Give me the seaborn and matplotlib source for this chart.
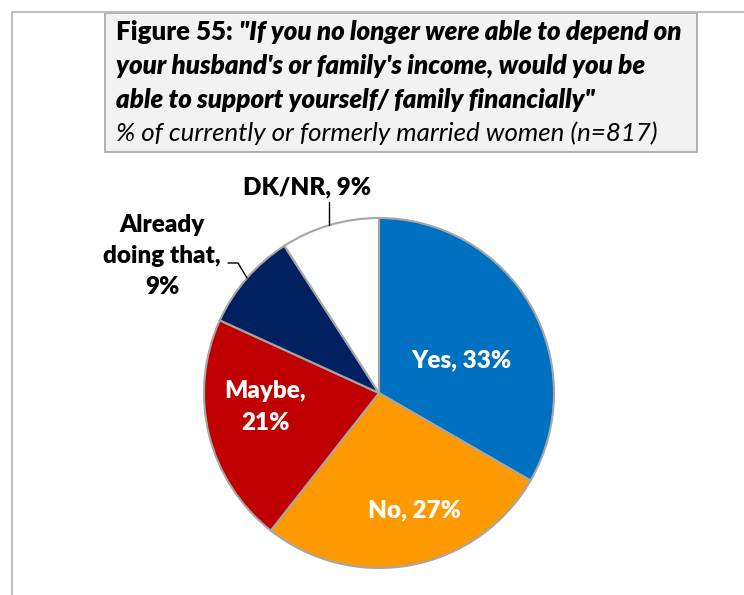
import matplotlib
matplotlib.use("Agg")
import matplotlib.pyplot as plt
import seaborn as sns
from matplotlib.patches import Rectangle
from matplotlib.lines import Line2D

categories = ["Yes", "No", "Maybe", "Already doing that", "DK/NR"]
values = [33, 27, 21, 9, 9]
slice_labels = ["Yes, 33%", "No, 27%", "Maybe,\n21%", "Already\ndoing that,\n9%", "DK/NR, 9%"]
colors = ["#0070C0", "#FF9900", "#C00000", "#002060", "#FFFFFF"]
label_colors = ["white", "white", "white", "black", "black"]

title_lead = "Figure 55: "
title_lines = ['"If you no longer were able to depend on',
               "your husband's or family's income, would you be",
               'able to support yourself/ family financially"']
subtitle = "% of currently or formerly married women (n=817)"

sns.set_theme(style="white")
FONT = "Lato"
plt.rcParams["font.family"] = [FONT, "DejaVu Sans"]

W, H = 744, 595
fig = plt.figure(figsize=(W / 100, H / 100), dpi=100)
fig.patch.set_facecolor("white")

def fx(px):
    return px / W

def fy(py):
    return 1 - py / H

# outer frame lines
fig.add_artist(Line2D([fx(12), fx(12)], [fy(12), fy(595)], color="#BFBFBF", lw=1.5))
fig.add_artist(Line2D([fx(12), fx(744)], [fy(12), fy(12)], color="#BFBFBF", lw=1.5))

# title box
fig.add_artist(Rectangle((fx(105), fy(152)), fx(697) - fx(105), fy(13) - fy(152),
                         facecolor="#F2F2F2", edgecolor="#A6A6A6", lw=1.2))

fs_title = 18.6
renderer = fig.canvas.get_renderer()
t0 = fig.text(fx(116), fy(32), title_lead, fontsize=fs_title, fontweight="heavy",
              va="center", ha="left", color="black")
bb = t0.get_window_extent(renderer=renderer)
fig.text(bb.x1 / W, fy(32), title_lines[0], fontsize=fs_title, fontweight="heavy",
         style="italic", va="center", ha="left", color="black")
ys = [32, 66, 100, 133]
for i, line in enumerate(title_lines[1:], start=1):
    fig.text(fx(116), fy(ys[i]), line, fontsize=fs_title, fontweight="heavy",
             style="italic", va="center", ha="left", color="black")
fig.text(fx(116), fy(ys[3]), subtitle, fontsize=fs_title, style="italic",
         va="center", ha="left", color="black")

# pie
cx, cy, r = 379, 393, 175
ax = fig.add_axes([fx(cx - r), fy(cy + r), 2 * r / W, 2 * r / H])
wedges, _ = ax.pie(values, colors=colors, startangle=90, counterclock=False,
                   wedgeprops=dict(edgecolor="#A6A6A6", linewidth=1.5))
ax.set_xlim(-1, 1)
ax.set_ylim(-1, 1)
ax.set_aspect("auto")
ax.axis("off")

def d(px, py):
    return ((px - cx) / r, (cy - py) / r)

label_pos = [(461, 360), (414, 510), (265, 407), (162, 256), (307, 187)]
for lab, col, (px, py) in zip(slice_labels, label_colors, label_pos):
    x, y = d(px, py)
    ax.text(x, y, lab, ha="center", va="center", fontsize=17.5, fontweight="heavy",
            color=col, linespacing=1.5, clip_on=False)

# leader lines
xs, ys_ = zip(*[d(228, 263), d(238, 263), d(247, 278)])
ax.plot(xs, ys_, color="black", lw=1, clip_on=False)
xs, ys_ = zip(*[d(329, 202), d(329, 225)])
ax.plot(xs, ys_, color="black", lw=1, clip_on=False)

fig.savefig("out.png", dpi=100, facecolor="white")
